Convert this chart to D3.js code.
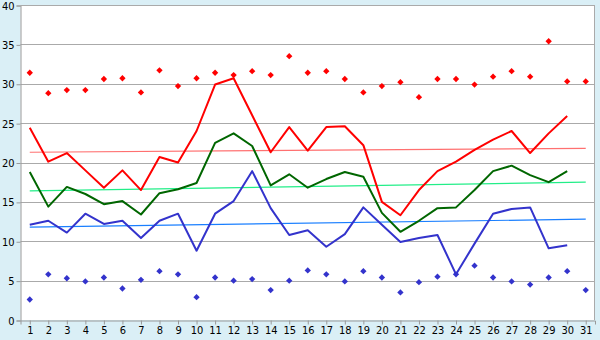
<!DOCTYPE html>
<html>
<head>
<meta charset="utf-8">
<script src="https://cdn.jsdelivr.net/npm/d3@7"></script>
<style>
  body { margin: 0; background: #daeff6; }
  svg { display: block; }
  .tick text { font-family: "DejaVu Sans Condensed", "DejaVu Sans", sans-serif; font-size: 11px; fill: #000; }
</style>
</head>
<body>
<div class="chart"></div>
<script>
const days = d3.range(1, 32);
const yTicks = [0, 5, 10, 15, 20, 25, 30, 35, 40];

// daily lines (day 31 missing)
const maxLine = [24.4, 20.1, 21.2, 19.0, 16.8, 19.0, 16.5, 20.7, 20.0, 24.0,
  29.9, 30.7, 26.0, 21.3, 24.5, 21.5, 24.5, 24.6, 22.2, 15.0,
  13.3, 16.5, 18.9, 20.1, 21.6, 22.9, 24.0, 21.2, 23.7, 25.9];
const meanLine = [18.8, 14.4, 16.9, 16.0, 14.7, 15.1, 13.4, 16.1, 16.6, 17.4,
  22.5, 23.7, 22.1, 17.1, 18.5, 16.8, 17.9, 18.8, 18.2, 13.6,
  11.2, 12.6, 14.2, 14.3, 16.5, 18.9, 19.6, 18.4, 17.5, 18.9];
const minLine = [12.1, 12.6, 11.1, 13.5, 12.2, 12.6, 10.4, 12.6, 13.5, 8.8,
  13.5, 15.1, 18.9, 14.2, 10.8, 11.4, 9.3, 10.9, 14.3, 12.1,
  9.9, 10.4, 10.8, 5.8, 9.7, 13.5, 14.1, 14.3, 9.1, 9.5];

// extremes (diamonds)
const maxPoints = [31.4, 28.8, 29.2, 29.2, 30.6, 30.7, 28.9, 31.7, 29.7, 30.7,
  31.4, 31.1, 31.6, 31.1, 33.5, 31.4, 31.6, 30.6, 28.9, 29.7,
  30.2, 28.3, 30.6, 30.6, 29.9, 30.9, 31.6, 30.9, 35.4, 30.3, 30.3];
const minPoints = [2.6, 5.8, 5.3, 4.9, 5.4, 4.0, 5.1, 6.2, 5.8, 2.9,
  5.4, 5.0, 5.2, 3.8, 5.0, 6.3, 5.8, 4.9, 6.2, 5.4,
  3.5, 4.8, 5.5, 5.8, 6.9, 5.4, 4.9, 4.5, 5.4, 6.2, 3.8];

// trend lines: value at day 1 and day 31
const trendDays = [1, 31];
const maxTrend = [21.3, 21.8];
const meanTrend = [16.4, 17.5];
const minTrend = [11.8, 12.8];

const width = 600, height = 340;
const margin = { top: 5, right: 5, bottom: 20, left: 20.5 };

const svg = d3.select(".chart").append("svg")
  .attr("width", width).attr("height", height);

const x = d3.scalePoint().domain(days).range([margin.left, width - margin.right]).padding(0.5);
const y = d3.scaleLinear().domain([0, 40]).range([height - margin.bottom, margin.top]);

svg.append("rect")
  .attr("x", margin.left).attr("y", margin.top)
  .attr("width", width - margin.right - margin.left)
  .attr("height", height - margin.bottom - margin.top)
  .attr("fill", "#fff");

// grid
svg.append("g").selectAll("line").data(yTicks.slice(1)).enter().append("line")
  .attr("x1", margin.left).attr("x2", width - margin.right)
  .attr("y1", d => Math.round(y(d)) + 0.5).attr("y2", d => Math.round(y(d)) + 0.5)
  .attr("stroke", "#aaa");

svg.append("line")
  .attr("x1", width - margin.right - 0.5).attr("x2", width - margin.right - 0.5)
  .attr("y1", margin.top).attr("y2", height - margin.bottom)
  .attr("stroke", "#aaa");

const yAxis = svg.append("g").attr("transform", `translate(${margin.left},0.5)`)
  .call(d3.axisLeft(y).tickValues(yTicks).tickSize(4).tickPadding(2));
const xAxis = svg.append("g").attr("transform", `translate(0,${height - margin.bottom + 0.5})`)
  .call(d3.axisBottom(x).tickSize(4).tickPadding(2));
[yAxis, xAxis].forEach(a => {
  a.selectAll("path, line").attr("stroke", "#999");
});

const line = d3.line().x((d, i) => x(days[i])).y(d => y(d));
const trendLine = d3.line().x((d, i) => x(trendDays[i])).y(d => y(d));

const trends = [
  { vals: maxTrend, color: "#ff7070" },
  { vals: meanTrend, color: "#22ee88" },
  { vals: minTrend, color: "#1a7fff" }
];
svg.append("g").selectAll("path").data(trends).enter().append("path")
  .attr("d", d => trendLine(d.vals))
  .attr("fill", "none").attr("stroke", d => d.color).attr("stroke-width", 1.2);

const series = [
  { vals: maxLine, color: "#ff0000" },
  { vals: meanLine, color: "#006600" },
  { vals: minLine, color: "#3333cc" }
];
svg.append("g").selectAll("path").data(series).enter().append("path")
  .attr("d", d => line(d.vals))
  .attr("fill", "none").attr("stroke", d => d.color).attr("stroke-width", 2)
  .attr("stroke-linejoin", "round");

// small square turned 45deg
const marker = d3.symbol().type(d3.symbolSquare).size(20);
const pts = [
  { vals: maxPoints, color: "#ff0000" },
  { vals: minPoints, color: "#3333cc" }
];
pts.forEach(p => {
  svg.append("g").selectAll("path").data(p.vals).enter().append("path")
    .attr("d", marker)
    .attr("transform", (d, i) => `translate(${x(days[i])},${y(d)}) rotate(45)`)
    .attr("fill", p.color);
});
</script>
</body>
</html>
